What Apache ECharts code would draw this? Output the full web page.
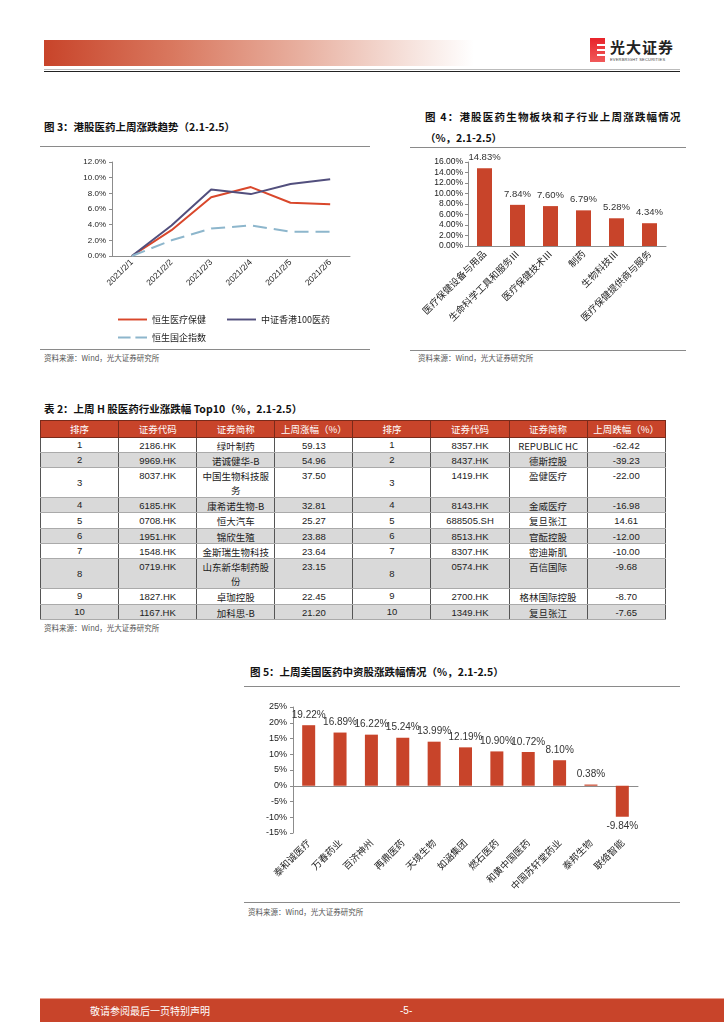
<!DOCTYPE html>
<html><head><meta charset="utf-8">
<script src="https://cdn.jsdelivr.net/npm/echarts@6/dist/echarts.min.js"></script>
<style>
body{margin:0;width:724px;height:1024px;position:relative;background:#fff;font-family:"Liberation Sans","Noto Sans CJK SC",sans-serif;overflow:hidden}
.abs{position:absolute}
.title{font-family:"Noto Sans CJK SC",sans-serif;font-weight:bold;font-size:10.5px;color:#111;white-space:nowrap;line-height:14px}
.src{font-family:"Noto Sans CJK SC",sans-serif;font-size:7.5px;color:#555;white-space:nowrap;line-height:10px}
.hline{height:1.2px;background:#8a8a8a}
#tbl{position:absolute;left:40px;top:420px;border-collapse:collapse;table-layout:fixed;width:625px;font-family:"Liberation Sans","Noto Sans CJK SC",sans-serif;font-size:9.5px;color:#222}
#tbl td,#tbl th{padding:0;text-align:center;border-left:1px solid #555;border-right:1px solid #555;border-top:1px solid #aaa;border-bottom:1px solid #aaa;line-height:12px;overflow:hidden;box-sizing:border-box}
#tbl th{background:#C8442A;color:#fff;font-weight:normal;font-family:"Noto Sans CJK SC",sans-serif;border-color:#7a2a1a}
#tbl td.top{vertical-align:top;padding-top:2px}
#tbl td.dbl{line-height:14px;padding-top:1px}
#tbl td.mid{vertical-align:middle}
#tbl tr.g td{background:#d9d9d9}
.cjk{font-family:"Noto Sans CJK SC",sans-serif}
</style></head>
<body>
<!-- header -->
<div class="abs" style="left:44px;top:40px;width:430px;height:26px;background:linear-gradient(to right,#C8442A 0%,#d9785f 30%,#e8b0a0 60%,#f6e2dc 85%,#ffffff 100%)"></div>
<div class="abs" style="left:44px;top:69px;width:636px;height:1px;background:#bbb"></div>
<div class="abs" style="left:44px;top:70.5px;width:636px;height:1.6px;background:#222"></div>
<!-- logo -->
<div class="abs" style="left:590px;top:38px;width:15px;height:24px;background:linear-gradient(to bottom,#e8232a,#f05a5a)"></div>
<div class="abs" style="left:597px;top:44px;width:8px;height:2px;background:#fff"></div>
<div class="abs" style="left:597px;top:49px;width:8px;height:2px;background:#fff"></div>
<div class="abs" style="left:597px;top:54px;width:8px;height:2px;background:#fff"></div>
<div class="abs cjk" style="left:610px;top:38px;font-size:15px;font-weight:bold;color:#222;letter-spacing:1px;line-height:18px">光大证券</div>
<div class="abs" style="left:610px;top:57px;font-size:4px;color:#444;letter-spacing:0.2px;white-space:nowrap">EVERBRIGHT SECURITIES</div>

<!-- Fig 3 -->
<div class="abs title" style="left:44px;top:120px">图 3：港股医药上周涨跌趋势（2.1-2.5）</div>
<div class="abs hline" style="left:40px;top:146px;width:330px"></div>
<div id="c3" class="abs" style="left:40px;top:150px;width:330px;height:195px"></div>
<div class="abs hline" style="left:40px;top:349px;width:330px"></div>
<div class="abs src" style="left:44px;top:353px">资料来源：Wind，光大证券研究所</div>

<!-- Fig 4 -->
<div class="abs title" style="left:425px;top:110px;letter-spacing:1.2px">图 4：港股医药生物板块和子行业上周涨跌幅情况</div>
<div class="abs title" style="left:425px;top:131px">（%，2.1-2.5）</div>
<div class="abs hline" style="left:410px;top:147px;width:276px"></div>
<div id="c4" class="abs" style="left:410px;top:150px;width:280px;height:195px"></div>
<div class="abs hline" style="left:410px;top:350px;width:276px"></div>
<div class="abs src" style="left:418px;top:353px">资料来源：Wind，光大证券研究所</div>

<!-- Table -->
<div class="abs title" style="left:44px;top:402px">表 2：上周 H 股医药行业涨跌幅 Top10（%，2.1-2.5）</div>
<table id="tbl"></table>
<div class="abs src" style="left:44px;top:623px">资料来源：Wind，光大证券研究所</div>

<!-- Fig 5 -->
<div class="abs title" style="left:250px;top:665px">图 5：上周美国医药中资股涨跌幅情况（%，2.1-2.5）</div>
<div class="abs hline" style="left:244px;top:686px;width:436px"></div>
<div id="c5" class="abs" style="left:240px;top:695px;width:440px;height:205px"></div>
<div class="abs hline" style="left:244px;top:902px;width:436px"></div>
<div class="abs src" style="left:248px;top:907px">资料来源：Wind，光大证券研究所</div>

<!-- footer -->
<div class="abs" style="left:40px;top:998px;width:684px;height:1px;background:#e8a090"></div>
<div class="abs" style="left:40px;top:999px;width:684px;height:23px;background:#C8442A"></div>
<div class="abs cjk" style="left:90px;top:1004px;font-size:10px;color:#fff;line-height:13px">敬请参阅最后一页特别声明</div>
<div class="abs" style="left:400px;top:1004px;font-size:10px;color:#fff;line-height:13px">-5-</div>

<script>
// ---------- Data ----------
const dates3 = ['2021/2/1','2021/2/2','2021/2/3','2021/2/4','2021/2/5','2021/2/6'];
const hsHealthcare = [0, 3.3, 7.5, 8.8, 6.8, 6.6];
const csiHk100Pharma = [0, 3.9, 8.5, 7.9, 9.2, 9.8];
const hsChinaEnt = [0, 2.0, 3.5, 3.9, 3.1, 3.1];

const sectors4 = ['医疗保健设备与用品','生命科学工具和服务Ⅲ','医疗保健技术Ⅲ','制药','生物科技Ⅲ','医疗保健提供商与服务'];
const sectorChg4 = [14.83, 7.84, 7.60, 6.79, 5.28, 4.34];

const stocks5 = ['泰和诚医疗','万春药业','百济神州','再鼎医药','天境生物','如涵集团','燃石医药','和黄中国医药','中国苏轩堂药业','泰邦生物','联络智能'];
const stockChg5 = [19.22, 16.89, 16.22, 15.24, 13.99, 12.19, 10.90, 10.72, 8.10, 0.38, -9.84];

const tblHeader = ['排序','证券代码','证券简称','上周涨幅（%）','排序','证券代码','证券简称','上周跌幅（%）'];
const gainRank = [1,2,3,4,5,6,7,8,9,10];
const gainCode = ['2186.HK','9969.HK','8037.HK','6185.HK','0708.HK','1951.HK','1548.HK','0719.HK','1827.HK','1167.HK'];
const gainName = ['绿叶制药','诺诚健华-B','中国生物科技服<br>务','康希诺生物-B','恒大汽车','锦欣生殖','金斯瑞生物科技','山东新华制药股<br>份','卓珈控股','加科思-B'];
const gainPct = ['59.13','54.96','37.50','32.81','25.27','23.88','23.64','23.15','22.45','21.20'];
const lossCode = ['8357.HK','8437.HK','1419.HK','8143.HK','688505.SH','8513.HK','8307.HK','0574.HK','2700.HK','1349.HK'];
const lossName = ['REPUBLIC HC','德斯控股','盈健医疗','金威医疗','复旦张江','官酝控股','密迪斯肌','百信国际','格林国际控股','复旦张江'];
const lossPct = ['-62.42','-39.23','-22.00','-16.98','14.61','-12.00','-10.00','-9.68','-8.70','-7.65'];
const doubleRows = [2, 7];

// ---------- Table ----------
(function(){
  const t = document.getElementById('tbl');
  let h = '<colgroup>' + tblHeader.map(()=>'<col style="width:78.1px">').join('') + '</colgroup>';
  h += '<tr style="height:16.5px">' + tblHeader.map(x=>'<th>'+x+'</th>').join('') + '</tr>';
  for (let i=0;i<gainRank.length;i++){
    const dbl = doubleRows.indexOf(i)>=0;
    const ht = dbl ? 30 : 15.3;
    const tc = dbl ? 'top dbl' : 'top';
    h += '<tr class="'+(i%2===1?'g':'')+'" style="height:'+ht+'px">'
      + '<td class="mid">'+gainRank[i]+'</td>'
      + '<td class="'+tc+'">'+gainCode[i]+'</td>'
      + '<td class="'+tc+' cjk">'+gainName[i]+'</td>'
      + '<td class="'+tc+'">'+gainPct[i]+'</td>'
      + '<td class="mid">'+gainRank[i]+'</td>'
      + '<td class="'+tc+'">'+lossCode[i]+'</td>'
      + '<td class="'+tc+' cjk">'+lossName[i]+'</td>'
      + '<td class="'+tc+'">'+lossPct[i]+'</td></tr>';
  }
  t.innerHTML = h;
})();

// ---------- Charts ----------
const RED = '#C8442A';
const axisGray = '#8c8c8c';
const FF = 'Liberation Sans, Noto Sans CJK SC, sans-serif';
const SOLID_ICON = 'path://M0,0H30V2H0Z';
const DASH_ICON = 'path://M0,0H13V2H0ZM18,0H30V2H18Z';

const c3 = echarts.init(document.getElementById('c3'));
const legendCommon = {itemWidth:29,itemHeight:2,textStyle:{fontSize:9,color:'#222',fontFamily:'Noto Sans CJK SC'},itemGap:10};
c3.setOption({
  animation:false,
  grid:{left:72,top:12,width:238,height:94},
  legend:[
    Object.assign({left:73,top:160,data:[{name:'恒生医疗保健',icon:SOLID_ICON}]},legendCommon),
    Object.assign({left:182,top:160,data:[{name:'中证香港100医药',icon:SOLID_ICON}]},legendCommon),
    Object.assign({left:73,top:178,data:[{name:'恒生国企指数',icon:DASH_ICON}]},legendCommon)
  ],
  xAxis:{type:'category',data:dates3,boundaryGap:true,
    axisLine:{lineStyle:{color:axisGray}},axisTick:{length:3,lineStyle:{color:axisGray}},
    axisLabel:{rotate:45,fontSize:8.5,color:'#222',margin:5,fontFamily:FF,interval:0}},
  yAxis:{type:'value',min:0,max:12,interval:2,
    axisLine:{show:true,lineStyle:{color:axisGray}},axisTick:{show:true,length:3,lineStyle:{color:axisGray}},
    splitLine:{show:false},
    axisLabel:{formatter:v=>v.toFixed(1)+'%',fontSize:8,color:'#222',margin:6,fontFamily:FF}},
  series:[
    {type:'line',name:'恒生医疗保健',data:hsHealthcare,symbol:'none',lineStyle:{color:'#D9472B',width:2},itemStyle:{color:'#D9472B'}},
    {type:'line',name:'中证香港100医药',data:csiHk100Pharma,symbol:'none',lineStyle:{color:'#524F7D',width:2},itemStyle:{color:'#524F7D'}},
    {type:'line',name:'恒生国企指数',data:hsChinaEnt,symbol:'none',lineStyle:{color:'#8DB6CC',width:2,type:[14,7]},itemStyle:{color:'#8DB6CC'}}
  ]
});

const c4 = echarts.init(document.getElementById('c4'));
c4.setOption({
  animation:false,
  grid:{left:58,top:12,width:198,height:84},
  xAxis:{type:'category',data:sectors4,
    axisLine:{lineStyle:{color:axisGray}},axisTick:{length:3,lineStyle:{color:axisGray}},
    axisLabel:{rotate:45,fontSize:9.5,color:'#222',margin:6,interval:0,fontFamily:'Noto Sans CJK SC'}},
  yAxis:{type:'value',min:0,max:16,interval:2,
    axisLine:{show:true,lineStyle:{color:axisGray}},axisTick:{show:true,length:3,lineStyle:{color:axisGray}},
    splitLine:{show:false},
    axisLabel:{formatter:v=>v.toFixed(2)+'%',fontSize:8.5,color:'#222',margin:5,fontFamily:FF}},
  series:[{type:'bar',data:sectorChg4,barWidth:15,itemStyle:{color:RED},
    label:{show:true,position:'top',distance:6,formatter:p=>p.value.toFixed(2)+'%',fontSize:9.5,color:'#333',fontFamily:FF}}]
});

const c5 = echarts.init(document.getElementById('c5'));
c5.setOption({
  animation:false,
  grid:{left:53,top:12,width:345,height:126},
  xAxis:[
    {type:'category',data:stocks5,position:'bottom',
      axisLine:{onZero:true,lineStyle:{color:axisGray}},axisTick:{length:3,lineStyle:{color:axisGray}},
      axisLabel:{show:false}},
    {type:'category',data:stocks5,position:'bottom',
      axisLine:{show:false,onZero:false},axisTick:{show:false},
      axisLabel:{rotate:45,fontSize:9.5,color:'#222',margin:8,interval:0,fontFamily:'Noto Sans CJK SC'}}
  ],
  yAxis:{type:'value',min:-15,max:25,interval:5,
    axisLine:{show:true,lineStyle:{color:axisGray}},axisTick:{show:true,length:3,lineStyle:{color:axisGray}},
    splitLine:{show:false},
    axisLabel:{formatter:'{value}%',fontSize:9,color:'#222',margin:6,fontFamily:FF}},
  series:[{type:'bar',xAxisIndex:0,barWidth:13,itemStyle:{color:RED},
    data:stockChg5.map(v=>({value:v,label:{position:v<0?'bottom':'top'}})),
    label:{show:true,distance:5,formatter:p=>p.value.toFixed(2)+'%',fontSize:10,color:'#333',fontFamily:FF}}]
});
</script>
</body></html>
